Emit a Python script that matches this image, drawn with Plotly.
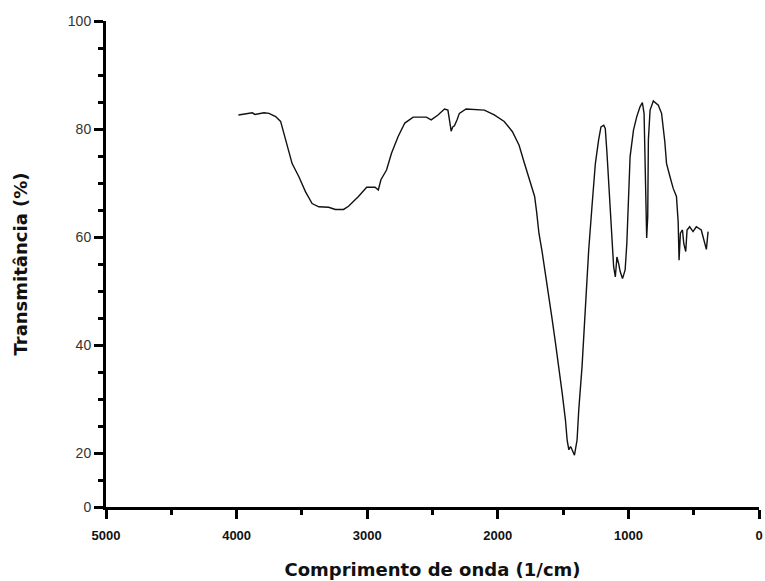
import plotly.graph_objects as go

# Wavenumber (1/cm) and transmittance (%)
wavenumber = [3986, 3950, 3904, 3880, 3860, 3828, 3790, 3752, 3701, 3663, 3645, 3613,
              3575, 3524, 3473, 3422, 3371, 3295, 3244, 3181, 3143, 3067, 3004, 2940,
              2915, 2895, 2852, 2814, 2763, 2712, 2648, 2547, 2510, 2458, 2408, 2382,
              2370, 2357, 2345, 2332, 2312, 2294, 2243, 2154, 2103, 2027, 1951, 1888,
              1837, 1799, 1749, 1718, 1703, 1685, 1659, 1634, 1608, 1583, 1558, 1532,
              1507, 1482, 1469, 1456, 1443, 1431, 1413, 1393, 1380, 1355, 1342, 1329,
              1317, 1304, 1279, 1253, 1228, 1210, 1189, 1177, 1164, 1151, 1139, 1126,
              1113, 1100, 1088, 1075, 1063, 1045, 1025, 1012, 999, 987, 961, 936, 911,
              893, 880, 873, 865, 860, 852, 847, 834, 809, 771, 746, 721, 708, 682,
              657, 632, 619, 612, 602, 586, 576, 561, 551, 531, 505, 480, 442, 429,
              403, 390]
transmittance = [82.6, 82.7, 82.8, 83.0, 82.7, 82.9, 83.0, 82.9, 82.3, 81.4, 79.8, 76.7,
                 73.6, 71.2, 68.4, 66.2, 65.6, 65.5, 65.1, 65.1, 65.7, 67.5, 69.2, 69.2,
                 68.7, 70.6, 72.4, 75.5, 78.6, 81.1, 82.2, 82.2, 81.7, 82.6, 83.7, 83.5,
                 81.4, 79.6, 80.4, 80.6, 81.7, 82.9, 83.7, 83.5, 83.5, 82.6, 81.4, 79.5,
                 77.0, 73.9, 70.2, 67.5, 64.7, 60.7, 57.0, 52.6, 48.9, 44.6, 40.3, 36.0,
                 31.1, 26.1, 22.4, 20.6, 21.2, 20.6, 19.6, 22.4, 28.0, 36.0, 42.1, 48.3,
                 52.6, 57.6, 65.6, 73.6, 78.0, 80.4, 80.7, 80.1, 75.5, 69.9, 65.0, 60.1,
                 54.5, 52.6, 56.3, 55.1, 53.6, 52.3, 53.9, 58.8, 67.5, 74.9, 79.8, 82.3,
                 84.1, 84.9, 82.9, 71.8, 64.4, 59.8, 63.8, 78.0, 83.5, 85.2, 84.4, 82.9,
                 77.6, 73.6, 71.2, 69.0, 67.5, 62.8, 55.7, 60.7, 61.3, 58.8, 57.3, 61.3,
                 61.9, 61.0, 61.9, 61.3, 60.1, 57.7, 61.0]

x_tickvals = [5000, 4000, 3000, 2000, 1000, 0]
x_ticktext = ["5000", "4000", "3000", "2000", "1000", "0"]
y_tickvals = [10, 20, 40, 60, 80, 100]
y_ticktext = ["0", "20", "40", "60", "80", "100"]

fig = go.Figure()
fig.add_trace(go.Scatter(
    x=wavenumber, y=transmittance, mode="lines",
    line=dict(color="#111111", width=1.4), showlegend=False,
))

fig.update_layout(
    width=765, height=581,
    margin=dict(l=106, r=2, t=21, b=74),
    paper_bgcolor="white", plot_bgcolor="white",
    font=dict(family="Arial", color="#111111"),
)
fig.update_xaxes(
    range=[5000, 0], tickmode="array", tickvals=x_tickvals, ticktext=x_ticktext,
    showgrid=False, zeroline=False, showline=True, linecolor="black", linewidth=3,
    ticks="outside", ticklen=9, tickwidth=2.5, tickcolor="black",
    minor=dict(dtick=500, ticks="outside", ticklen=5, tickwidth=2.5, tickcolor="black", showgrid=False),
    tickfont=dict(size=13, family="Arial", color="#111111", weight="bold"),
    ticklabeloverflow="allow", ticklabelstandoff=5,
    title=dict(text="Comprimento de onda (1/cm)", standoff=22,
               font=dict(size=18, family="DejaVu Sans", color="#111111", weight="bold")),
)
fig.update_yaxes(
    range=[10, 100], tickmode="array", tickvals=y_tickvals, ticktext=y_ticktext,
    showgrid=False, zeroline=False, showline=True, linecolor="black", linewidth=3,
    ticks="outside", ticklen=9, tickwidth=2.5, tickcolor="black",
    minor=dict(tickvals=[15, 25, 30, 35, 45, 50, 55, 65, 70, 75, 85, 90, 95],
               ticks="outside", ticklen=5, tickwidth=2.5, tickcolor="black", showgrid=False),
    tickfont=dict(size=14, family="Arial", color="#333333"),
    title=dict(text="Transmitância (%)", standoff=36,
               font=dict(size=18, family="DejaVu Sans", color="#111111", weight="bold")),
)

fig.write_html("out.html")
